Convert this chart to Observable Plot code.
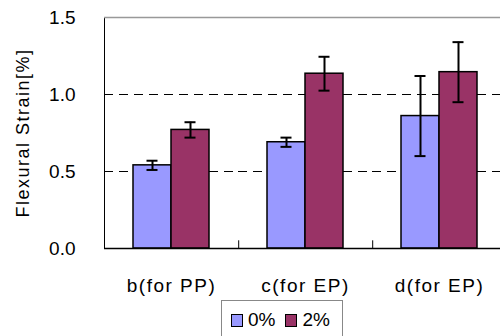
<!DOCTYPE html>
<html>
<head>
<meta charset="utf-8">
<script src="https://cdn.jsdelivr.net/npm/d3@7"></script>
<script src="https://cdn.jsdelivr.net/npm/@observablehq/plot@0.6"></script>
<style>
  html, body { margin: 0; padding: 0; background: #fff; overflow: hidden; }
  #legend { margin-left: 221px; width: 122px; height: 40px; border: 1px solid #888; box-sizing: border-box;
    display: flex; align-items: center; padding-left: 9px; font-family: "Liberation Sans", Arial, sans-serif; font-size: 19px; color: #000; }
  .sw { display: inline-block; width: 10px; height: 11px; border: 1.5px solid #000; margin-right: 5px; }
  .item { display: flex; align-items: center; margin-right: 10px; }
  [aria-label="y-axis label"], [aria-label="y-axis label"] text { font-size: 18px !important; letter-spacing: 1.5px; }
  [aria-label="fx-axis tick label"] { font-size: 19px; letter-spacing: 1.5px; }
</style>
</head>
<body>
<div id="chart"></div>
<div id="legend"></div>
<script>
const categories = ["b(for PP)", "c(for EP)", "d(for EP)"];
const series = ["0%", "2%"];
const values0 = [0.54, 0.69, 0.86];
const values2 = [0.77, 1.135, 1.145];
const errors0 = [0.03, 0.03, 0.26];
const errors2 = [0.05, 0.11, 0.195];
const colors = ["#9999FF", "#993366"];
const yTicks = [0, 0.5, 1.0, 1.5];
const gridValues = [0.5, 1.0];

const data = [];
categories.forEach((c, i) => {
  data.push({cat: c, s: series[0], v: values0[i], e: errors0[i]});
  data.push({cat: c, s: series[1], v: values2[i], e: errors2[i]});
});
const boundaries = categories.slice(1).map(c => ({cat: c}));

const chart = Plot.plot({
  width: 500,
  height: 300,
  marginLeft: 103,
  marginRight: -7,
  marginTop: 17,
  marginBottom: 52,
  style: {fontFamily: "Liberation Sans, Arial, sans-serif", fontSize: "19px", color: "#000", background: "#fff"},
  fx: {domain: categories, padding: 0, axis: "bottom", tickSize: 0, tickPadding: 30, label: null},
  x: {domain: series, paddingInner: 0, paddingOuter: 0.718, axis: null},
  y: {domain: [0, 1.5], ticks: yTicks, tickFormat: d => d.toFixed(1), tickSize: 0, tickPadding: 29,
      label: "Flexural Strain[%]", labelArrow: "none", labelAnchor: "center", labelOffset: 88, line: true},
  color: {domain: series, range: colors},
  marks: [
    Plot.ruleY(gridValues, {stroke: "#000", strokeDasharray: "9,6", strokeWidth: 1}),
    Plot.ruleY([1.5], {stroke: "#999", strokeWidth: 1.5}),
    Plot.barY(data, {fx: "cat", x: "s", y: "v", fill: "s", stroke: "#000", strokeWidth: 1.5}),
    Plot.ruleX(data, {fx: "cat", x: "s", y1: d => d.v - d.e, y2: d => d.v + d.e, stroke: "#000", strokeWidth: 2}),
    Plot.tickY(data, {fx: "cat", x: "s", y: d => d.v - d.e, stroke: "#000", strokeWidth: 2, insetLeft: 13.5, insetRight: 13.5}),
    Plot.tickY(data, {fx: "cat", x: "s", y: d => d.v + d.e, stroke: "#000", strokeWidth: 2, insetLeft: 13.5, insetRight: 13.5}),
    Plot.ruleX(boundaries, {fx: "cat", x: () => series[0], dx: -47.8, y1: 0, y2: 0.05, stroke: "#000", strokeWidth: 1}),
    Plot.ruleY([0], {stroke: "#000", strokeWidth: 1.5})
  ]
});
document.getElementById("chart").appendChild(chart);

const lg = document.getElementById("legend");
series.forEach((s, i) => {
  const it = document.createElement("span");
  it.className = "item";
  const sw = document.createElement("span");
  sw.className = "sw";
  sw.style.background = colors[i];
  it.appendChild(sw);
  it.appendChild(document.createTextNode(s));
  lg.appendChild(it);
});
</script>
</body>
</html>
